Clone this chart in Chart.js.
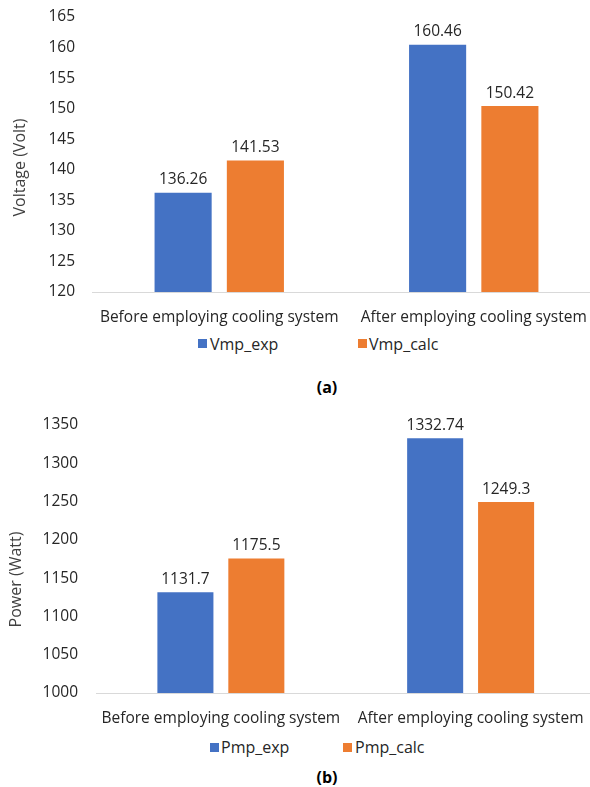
<!DOCTYPE html>
<html>
<head>
<meta charset="utf-8">
<script src="https://cdn.jsdelivr.net/npm/chart.js@4.4.0/dist/chart.umd.min.js"></script>
<style>
  html, body { margin: 0; padding: 0; background: #fff; }
  #page { position: relative; width: 590px; height: 787px; overflow: hidden; font-family: "Open Sans", sans-serif; }
  .frame { position: absolute; left: 0; width: 640px; }
  .frame canvas { display: block; }
  .sw { position: absolute; width: 9px; height: 9px; }
  .lg { position: absolute; font-size: 16px; line-height: 20px; color: #262626; white-space: nowrap; }
  .cap { position: absolute; font-size: 16px; line-height: 20px; font-weight: bold; color: #000; transform: translateX(-50%); }
</style>
</head>
<body>
<div id="page">
  <div class="frame" style="top:0;height:332px"><canvas id="chartA" width="640" height="332"></canvas></div>
  <div class="frame" style="top:400px;height:333px"><canvas id="chartB" width="640" height="333"></canvas></div>
  <div id="legendA"></div>
  <div id="legendB"></div>
  <div class="cap" style="left:327px;top:377px">(a)</div>
  <div class="cap" style="left:327px;top:767px">(b)</div>
</div>
<script>
// Categories and measured values
const categories = ['Before employing cooling system', 'After employing cooling system'];
const voltageSeries = ['Vmp_exp', 'Vmp_calc'];
const vmpExp = [136.26, 160.46];
const vmpCalc = [141.53, 150.42];
const powerSeries = ['Pmp_exp', 'Pmp_calc'];
const pmpExp = [1131.7, 1332.74];
const pmpCalc = [1175.5, 1249.3];
const voltageTicks = [120, 125, 130, 135, 140, 145, 150, 155, 160, 165];
const powerTicks = [1000, 1050, 1100, 1150, 1200, 1250, 1300, 1350];

const BLUE = '#4472C4';
const ORANGE = '#ED7D31';
const TEXT = '#262626';
const FONT = '"Open Sans", sans-serif';

Chart.defaults.font.family = FONT;
Chart.defaults.color = TEXT;

// Value written above every bar
const valueLabels = {
  id: 'valueLabels',
  afterDatasetsDraw(chart) {
    const ctx = chart.ctx;
    ctx.save();
    ctx.font = '15.5px ' + FONT;
    ctx.fillStyle = TEXT;
    ctx.textAlign = 'center';
    ctx.textBaseline = 'middle';
    chart.data.datasets.forEach((ds, i) => {
      chart.getDatasetMeta(i).data.forEach((bar, j) => {
        ctx.fillText(String(ds.data[j]), bar.x, bar.y - 13);
      });
    });
    ctx.restore();
  }
};

// Rotated y-axis title
const sideTitle = {
  id: 'sideTitle',
  afterDraw(chart, args, opts) {
    const ctx = chart.ctx;
    ctx.save();
    ctx.translate(opts.x, opts.y);
    ctx.rotate(-Math.PI / 2);
    ctx.font = '16px ' + FONT;
    ctx.fillStyle = '#404040';
    ctx.textAlign = 'center';
    ctx.textBaseline = 'middle';
    ctx.fillText(opts.text, 0, 0);
    ctx.restore();
  }
};

function makeChart(id, names, a, b, ticks, o) {
  return new Chart(document.getElementById(id), {
    type: 'bar',
    data: {
      labels: categories,
      datasets: [
        { label: names[0], data: a, backgroundColor: BLUE, categoryPercentage: 0.568, barPercentage: 0.79 },
        { label: names[1], data: b, backgroundColor: ORANGE, categoryPercentage: 0.568, barPercentage: 0.79 }
      ]
    },
    options: {
      responsive: false,
      devicePixelRatio: 1,
      animation: false,
      layout: { padding: { top: o.top, right: o.right, bottom: 0, left: 0 } },
      plugins: {
        legend: { display: false },
        tooltip: { enabled: false },
        sideTitle: { text: o.title, x: o.titleX, y: o.titleY }
      },
      scales: {
        x: {
          grid: { display: false, drawTicks: false },
          border: { display: true, color: '#D9D9D9', width: 1 },
          ticks: { color: TEXT, font: { size: 15.5 }, padding: 16, maxRotation: 0, autoSkip: false },
          afterFit: s => { s.height = 40; }
        },
        y: {
          min: ticks[0],
          max: ticks[ticks.length - 1],
          // hidden tick marks keep the labels clear of the plot
          grid: { display: false, drawTicks: true, tickLength: o.tickGap },
          border: { display: false },
          ticks: {
            stepSize: ticks[1] - ticks[0],
            color: TEXT,
            font: { size: 15.5 },
            padding: 0,
            callback: v => String(v)
          },
          afterFit: s => { s.width = o.axisW; }
        }
      }
    },
    plugins: [valueLabels, sideTitle]
  });
}

function makeLegend(el, chart, items) {
  chart.data.datasets.forEach((ds, i) => {
    const it = items[i];
    const sw = document.createElement('div');
    sw.className = 'sw';
    sw.style.left = it.box + 'px';
    sw.style.top = (it.y - 4.5) + 'px';
    sw.style.background = ds.backgroundColor;
    const tx = document.createElement('div');
    tx.className = 'lg';
    tx.style.left = it.text + 'px';
    tx.style.top = (it.y - 10) + 'px';
    tx.textContent = ds.label;
    el.appendChild(sw);
    el.appendChild(tx);
  });
}

const chartA = makeChart('chartA', voltageSeries, vmpExp, vmpCalc, voltageTicks,
  { top: 17, right: 39, axisW: 92, tickGap: 17, title: 'Voltage (Volt)', titleX: 20, titleY: 167.5 });
const chartB = makeChart('chartB', powerSeries, pmpExp, pmpCalc, powerTicks,
  { top: 25, right: 44.5, axisW: 96, tickGap: 18, title: 'Power (Watt)', titleX: 16, titleY: 179.5 });

makeLegend(document.getElementById('legendA'), chartA, [{ box: 198, text: 210, y: 343.5 }, { box: 358, text: 369, y: 343.5 }]);
makeLegend(document.getElementById('legendB'), chartB, [{ box: 210, text: 221, y: 747 }, { box: 343, text: 355, y: 747 }]);
</script>
</body>
</html>
